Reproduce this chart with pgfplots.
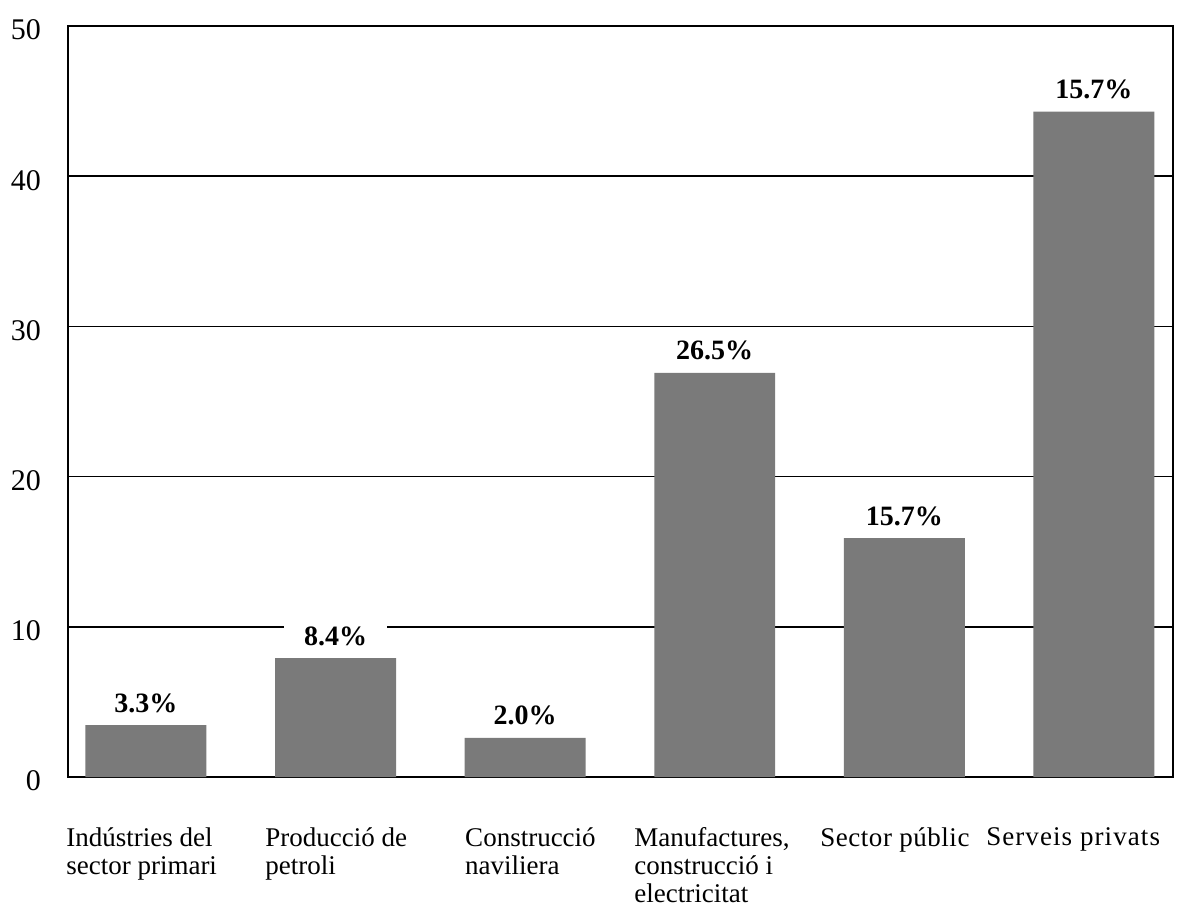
\documentclass[border=0pt]{standalone}
\usepackage{pgfplots}
\pgfplotsset{compat=1.18}
\usepackage{fontspec}
\setmainfont{Liberation Serif}
\begin{document}
\begin{tikzpicture}[font=\fontsize{13}{14}\selectfont]
\begin{axis}[
  name=ax,
  at={(0,0)}, anchor=south west,
  width=552.5pt, height=375.5pt, scale only axis,
  xmin=-0.411, xmax=5.417,
  ymin=0, ymax=50,
  ytick={0,10,20,30,40,50},
  xtick=\empty,
  ymajorgrids,
  grid style={black, line width=0.85pt},
  axis line style={black, line width=0.85pt},
  major tick length=0pt,
  /pgf/number format/assume math mode=true,
  yticklabel style={font=\fontsize{15}{16}\selectfont, anchor=east, xshift=-10pt, yshift=-2pt},
  ybar, bar width=0.638,
  point meta=explicit symbolic,
  nodes near coords={\pgfplotspointmeta},
  nodes near coords style={font=\fontsize{14}{15}\selectfont\bfseries, fill=white,
     inner xsep=10pt, inner ysep=2pt, anchor=base, yshift=6.5pt},
  clip=false,
]
\addplot[fill=black!52, draw=none] coordinates {
  (0,3.46) [3.3\%]
  (1,7.92) [8.4\%]
  (2,2.6) [2.0\%]
  (3,26.9) [26.5\%]
  (4,15.9) [15.7\%]
  (5,44.3) [15.7\%]
};
\begin{scope}[every node/.style={anchor=north west, inner sep=0pt, align=left,
   font=\fontsize{13.5}{14}\selectfont, yshift=-25pt}]
\node at (axis cs:-0.422,0) {Indústries del\\sector primari};
\node at (axis cs:0.628,0) {Producció de\\petroli};
\node at (axis cs:1.682,0) {Construcció\\naviliera};
\node at (axis cs:2.574,0) {Manufactures,\\construcció i\\electricitat};
\node at (axis cs:3.555,0) {\addfontfeatures{LetterSpace=2}Sector públic};
\node at (axis cs:4.430,0) {\addfontfeatures{LetterSpace=4}Serveis privats};
\end{scope}
\end{axis}
\pgfresetboundingbox
\path[use as bounding box] ([xshift=-34pt, yshift=-66.5pt]ax.south west) rectangle ([xshift=2.5pt, yshift=13pt]ax.north east);
\end{tikzpicture}
\end{document}
